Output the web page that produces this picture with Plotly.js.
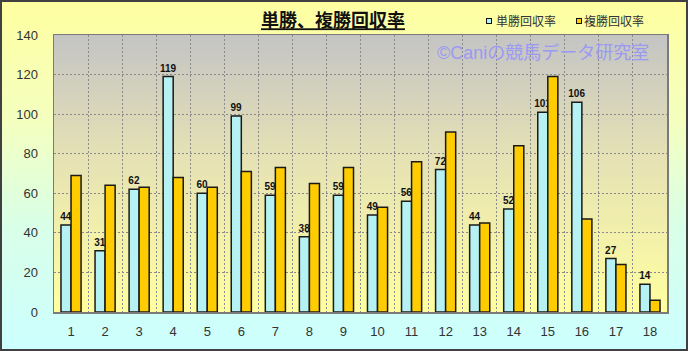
<!DOCTYPE html>
<html>
<head>
<meta charset="utf-8">
<script src="https://cdn.plot.ly/plotly-3.0.1.min.js"></script>
<style>
  html, body { margin: 0; padding: 0; }
  #wrap { position: relative; width: 688px; height: 351px;
          background: linear-gradient(to bottom, #ffffa0 0%, #f4ffc0 35%, #d8ffe8 65%, #ccffff 100%); }
  #chart { position: absolute; left: 0; top: 0; width: 688px; height: 351px; }
  #frame { position: absolute; left: 0; top: 0; width: 688px; height: 351px; box-sizing: border-box;
           border: 2px solid #404040; pointer-events: none; }
</style>
</head>
<body>
<div id="wrap"><div id="chart"></div><div id="frame"></div></div>
<script>
// ---- data ----
const categories = ['1','2','3','4','5','6','7','8','9','10','11','12','13','14','15','16','17','18'];
const winReturn   = [44, 31, 62, 119, 60, 99, 59, 38, 59, 49, 56, 72, 44, 52, 101, 106, 27, 14];
const placeReturn = [69, 64, 63, 68, 63, 71, 73, 65, 73, 53, 76, 91, 45, 84, 119, 47, 24, 6];
const yTicks = [0, 20, 40, 60, 80, 100, 120, 140];
const seriesNames = ['単勝回収率', '複勝回収率'];

// ---- styling ----
const plotL = 54, plotR = 667, plotT = 35, plotB = 312, W = 688, H = 351;
const pw = plotR - plotL, ph = plotB - plotT;
const px = x => (x - plotL) / pw;
const py = y => (plotB - y) / ph;

const gradSvg = '<svg xmlns="http://www.w3.org/2000/svg" width="100" height="100" preserveAspectRatio="none">' +
  '<defs><linearGradient id="g" x1="0" y1="0" x2="0" y2="1">' +
  '<stop offset="0" stop-color="#c4c4c4"/><stop offset="0.45" stop-color="#e6e2b4"/>' +
  '<stop offset="1" stop-color="#ffffa0"/></linearGradient></defs>' +
  '<rect width="100" height="100" fill="url(#g)"/></svg>';
const gradUri = 'data:image/svg+xml;base64,' + btoa(gradSvg);

const cjk = '"Noto Sans CJK JP", "Liberation Sans", sans-serif';
const lat = '"Liberation Sans", Arial, sans-serif';

const traces = [
  {
    type: 'bar', name: seriesNames[0], x: categories, y: winReturn,
    marker: { color: '#b6f2f4', line: { color: '#1a1a1a', width: 1.5 } },
    text: winReturn.map(String), textposition: 'outside', textangle: 0,
    constraintext: 'none', cliponaxis: false,
    textfont: { family: lat, size: 10, color: '#111', weight: 'bold' },
    showlegend: false, hoverinfo: 'none'
  },
  {
    type: 'bar', name: seriesNames[1], x: categories, y: placeReturn,
    marker: { color: '#ffcc00', line: { color: '#1a1a1a', width: 1.5 } },
    showlegend: false, hoverinfo: 'none'
  }
];

const gridStyle = { showgrid: true, gridcolor: '#8a8a8a', griddash: '2px,2px', gridwidth: 1 };

const layout = {
  width: W, height: H,
  margin: { l: plotL, r: W - plotR, t: plotT, b: H - plotB },
  paper_bgcolor: 'rgba(0,0,0,0)', plot_bgcolor: 'rgba(0,0,0,0)',
  barmode: 'group', bargap: 0.41, bargroupgap: 0,
  showlegend: false,
  title: {
    text: '<b>単勝、複勝回収率</b>', xref: 'container', yref: 'container',
    x: 333 / W, xanchor: 'center', y: 1 - 21 / H, yanchor: 'middle',
    font: { family: cjk, size: 18, color: '#111', lineposition: 'under' }
  },
  xaxis: Object.assign({
    type: 'category', tickson: 'boundaries', ticks: '', ticklabelstandoff: 7,
    tickfont: { family: lat, size: 13, color: '#333' },
    showline: true, linecolor: '#7a7a7a', linewidth: 1.5, mirror: true, zeroline: false
  }, gridStyle),
  yaxis: Object.assign({
    range: [0, 140], tickvals: yTicks, ticktext: yTicks.map(String), ticks: '',
    ticklabelstandoff: 12,
    tickfont: { family: lat, size: 13, color: '#333' },
    showline: true, linecolor: '#7a7a7a', linewidth: 1.5, mirror: true, zeroline: false
  }, gridStyle),
  images: [{
    source: gradUri, xref: 'paper', yref: 'paper', x: 0, y: 1, sizex: 1, sizey: 1,
    xanchor: 'left', yanchor: 'top', sizing: 'stretch', layer: 'below'
  }],
  annotations: [
    { text: '©Caniの競馬データ研究室', xref: 'paper', yref: 'paper', x: px(435), y: py(53),
      xanchor: 'left', yanchor: 'middle', showarrow: false,
      font: { family: '"Liberation Sans", "Noto Sans CJK JP", sans-serif', size: 18, color: '#9a9af2' } },
    { text: ' ', xref: 'paper', yref: 'paper', x: px(489), y: py(21), xanchor: 'center', yanchor: 'middle',
      showarrow: false, width: 4, height: 4, bgcolor: '#b6f2f4', bordercolor: '#111', borderwidth: 1, borderpad: 0,
      font: { size: 2 } },
    { text: seriesNames[0], xref: 'paper', yref: 'paper', x: px(494), y: py(21), xanchor: 'left', yanchor: 'middle',
      showarrow: false, font: { family: cjk, size: 12, color: '#333' } },
    { text: ' ', xref: 'paper', yref: 'paper', x: px(579), y: py(21), xanchor: 'center', yanchor: 'middle',
      showarrow: false, width: 4, height: 4, bgcolor: '#ffcc00', bordercolor: '#111', borderwidth: 1, borderpad: 0,
      font: { size: 2 } },
    { text: seriesNames[1], xref: 'paper', yref: 'paper', x: px(582), y: py(21), xanchor: 'left', yanchor: 'middle',
      showarrow: false, font: { family: cjk, size: 12, color: '#333' } }
  ]
};

Plotly.newPlot('chart', traces, layout, { displayModeBar: false, staticPlot: true });
</script>
</body>
</html>
